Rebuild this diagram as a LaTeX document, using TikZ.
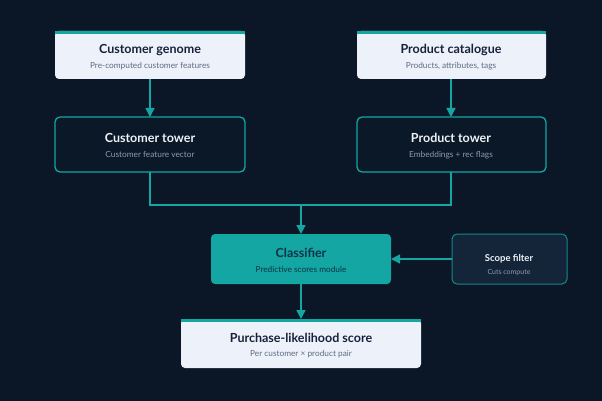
\documentclass[tikz,border=0pt]{standalone}
\usepackage{fontspec}
\setmainfont{Lato}
\usetikzlibrary{arrows.meta,calc}
\definecolor{bg}{HTML}{0B1626}
\definecolor{teal}{HTML}{14A6A3}
\definecolor{lightbox}{HTML}{EDF2FA}
\definecolor{darktext}{HTML}{17213A}
\definecolor{graytext}{HTML}{5E6A80}
\definecolor{darkbox}{HTML}{0B1828}
\definecolor{scopebox}{HTML}{142439}
\definecolor{whitetext}{HTML}{EEF2F8}
\definecolor{subdark}{HTML}{8E9BB0}
\definecolor{classtext}{HTML}{0D3345}
\tikzset{
  x=1pt,y=-1pt,
  lightnode/.style={fill=lightbox,rounded corners=4pt},
  darknode/.style={fill=darkbox,draw=teal,line width=1.3pt,rounded corners=5pt},
  classnode/.style={fill=teal,rounded corners=4pt},
  scopenode/.style={fill=scopebox,draw=teal!80!bg,line width=1pt,rounded corners=5pt},
  ttl/.style={font=\bfseries\fontsize{12.5}{14}\selectfont},
  sub/.style={font=\fontsize{8.3}{10}\selectfont},
  conn/.style={draw=teal,line width=1.5pt},
  arr/.style={conn,-{Triangle[length=9pt,width=9pt]}},
}
\begin{document}
\begin{tikzpicture}
\fill[bg] (0,0) rectangle (602,401);
\useasboundingbox (0,0) rectangle (602,401);
% light boxes with top bar
\newcommand{\lightbox}[6]{%
  \begin{scope}
  \path[lightnode] (#1,#2) rectangle (#3,#4);
  \fill[teal] (#1,#2) rectangle (#3,{#2+3});
  \end{scope}}
\lightbox{55}{31}{245}{79}{}{}
\lightbox{357}{31}{546}{79}{}{}
\lightbox{181}{319}{421}{368}{}{}
\coordinate (cgT) at (150,31);
\node[inner sep=0] (cg) at (150,55) {};
\node[ttl,text=darktext] at (150,50) {Customer genome};
\node[sub,text=graytext] at (150,66) {Pre-computed customer features};
\node[inner sep=0] (pc) at (451,55) {};
\node[ttl,text=darktext] at (451,50) {Product catalogue};
\node[sub,text=graytext] at (451,66) {Products, attributes, tags};
\node[ttl,text=darktext] at (301,338) {Purchase-likelihood score};
\node[sub,text=graytext] at (301,354) {Per customer × product pair};
% dark towers
\path[darknode] (55,117) rectangle (245,172);
\path[darknode] (357,117) rectangle (546,172);
\node[ttl,text=whitetext] at (150,138) {Customer tower};
\node[sub,text=subdark] at (150,155) {Customer feature vector};
\node[ttl,text=whitetext] at (451,138) {Product tower};
\node[sub,text=subdark] at (451,155) {Embeddings + rec flags};
% classifier
\path[classnode] (211,234) rectangle (391,284);
\node[ttl,text=classtext] at (301,253) {Classifier};
\node[sub,text=classtext] at (301,269) {Predictive scores module};
% scope filter
\path[scopenode] (452,234) rectangle (567,284);
\node[font=\bfseries\fontsize{9.5}{11}\selectfont,text=whitetext] at (509,259) {Scope filter};
\node[font=\fontsize{7}{8}\selectfont,text=subdark] at (509,273) {Cuts compute};
% named anchors
\coordinate (cgB) at (150,79);
\coordinate (pcB) at (451,79);
\coordinate (ctT) at (150,117);
\coordinate (ptT) at (451,117);
\coordinate (ctB) at (150,172);
\coordinate (ptB) at (451,172);
\coordinate (join) at (301,205);
\coordinate (clT) at (301,234);
\coordinate (clB) at (301,284);
\coordinate (clR) at (391,259);
\coordinate (sfL) at (452,259);
\coordinate (psT) at (301,319);
% connectors
\draw[arr] (cgB) -- (ctT);
\draw[arr] (pcB) -- (ptT);
\draw[conn] (ctB) |- (join) -| (ptB);
\draw[arr] (join) -- (clT);
\draw[arr] (sfL) -- (clR);
\draw[arr] (clB) -- (psT);
\end{tikzpicture}
\end{document}
